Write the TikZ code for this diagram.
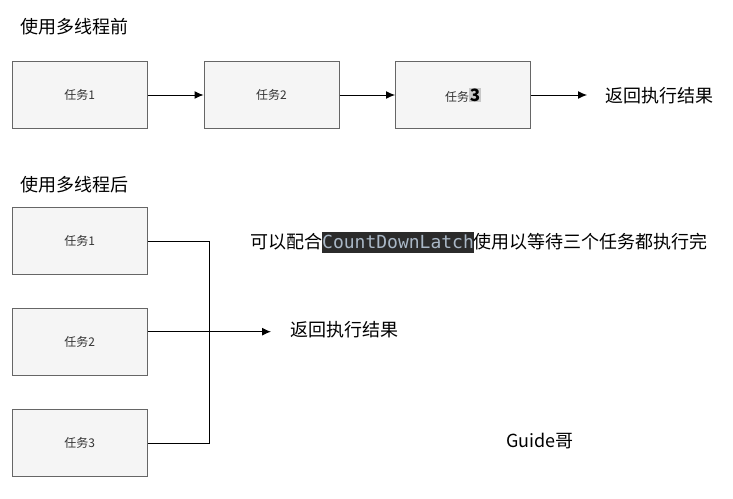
\documentclass[tikz,border=0pt]{standalone}
\usepackage{fontspec}
\setmainfont{Noto Sans CJK SC}
\newfontfamily\cjk{Noto Sans CJK SC}
\newfontfamily\codefont{DejaVu Sans Mono}
\usetikzlibrary{arrows.meta}
\definecolor{boxfill}{HTML}{F5F5F5}
\definecolor{boxline}{HTML}{666666}
\definecolor{boxtext}{HTML}{333333}
\definecolor{codebg}{HTML}{2B2B2B}
\definecolor{codefg}{HTML}{A9B7C6}
\definecolor{hl}{HTML}{C8C8C8}
\tikzset{
  taskbox/.style={draw=boxline, fill=boxfill, line width=1pt, minimum width=135pt, minimum height=67pt, inner sep=0pt, font=\cjk\fontsize{12}{14}\selectfont, text=boxtext},
  lbl/.style={inner sep=0pt, font=\cjk\fontsize{18}{20}\selectfont, text=black},
  conn/.style={line width=1pt, draw=black},
  arr/.style={conn, -{Latex[length=9pt,width=8pt]}}
}
\begin{document}
\begin{tikzpicture}[x=1pt,y=-1pt]
\useasboundingbox[fill=white] (0,0) rectangle (733,498);
% top
\node[lbl, anchor=west] (t1) at (20.5,27) {使用多线程前};
\node[taskbox] (a1) at (79.8,95) {任务1};
\node[taskbox] (a2) at (271.5,95) {任务2};
\node[taskbox] (a3) at (463,95) {任务{\setlength\fboxsep{0.7pt}\colorbox{hl}{\fontsize{17}{17}\selectfont\bfseries\color{black}3}}};
\node[lbl, anchor=west] (r1) at (605,96) {返回执行结果};
\coordinate (tip1) at (587,95);
\draw[arr] (a1.east) -- (a2.west);
\draw[arr] (a2.east) -- (a3.west);
\draw[arr] (a3.east) -- (tip1);
% bottom
\node[lbl, anchor=west] (t2) at (20.5,185) {使用多线程后};
\node[taskbox] (b1) at (79.8,241.2) {任务1};
\node[taskbox] (b2) at (79.8,342.2) {任务2};
\node[taskbox] (b3) at (79.8,443.2) {任务3};
\coordinate (j1) at (209.3,241.2);
\coordinate (j3) at (209.3,443.2);
\coordinate (tip2) at (271,331.7);
\draw[conn] (b1.east) -- (j1) -- (j3) -- (b3.east);
\draw[arr] (b2.east |- tip2) -- (tip2);
\node[lbl, anchor=west] (r2) at (290,330) {返回执行结果};
\node[lbl, anchor=west] (note) at (250,242) {可以配合{\setlength\fboxsep{0pt}\colorbox{codebg}{\rule[-4.5pt]{0pt}{21pt}\codefont\color{codefg}CountDownLatch}}使用以等待三个任务都执行完};
\node[lbl] (g) at (540,441.5) {Guide哥};
\end{tikzpicture}
\end{document}
